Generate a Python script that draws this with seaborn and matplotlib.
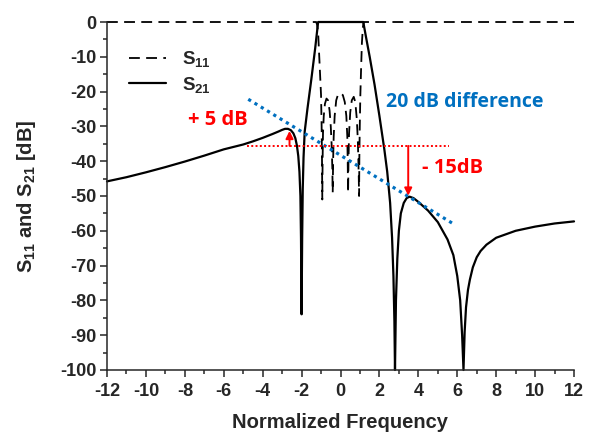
import numpy as np
import pandas as pd
import matplotlib
matplotlib.use("Agg")
import matplotlib.pyplot as plt
import seaborn as sns

# S21 (transmission)
s21_x = [-12, -11, -10, -9, -8, -7, -6, -5, -4.5, -4, -3.5, -3.2, -3.0, -2.85, -2.7,
         -2.55, -2.42, -2.32, -2.24, -2.17, -2.11, -2.06, -2.03, -2.0, -1.97, -1.94,
         -1.9, -1.84, -1.7, -1.5, -1.3, -1.2, -1.15,
         1.17, 1.3, 1.5, 1.75, 2.0, 2.25, 2.4, 2.55, 2.65, 2.72, 2.77, 2.8,
         2.85, 2.92, 3.0, 3.1, 3.25, 3.4, 3.55, 3.75, 4.0, 4.5, 5.0, 5.5, 5.8, 6.0,
         6.15, 6.25, 6.32, 6.38, 6.45, 6.55, 6.65, 6.8, 7.0, 7.2, 7.5, 8.0, 8.5,
         9.0, 10.0, 11.0, 12.0]
s21_y = [-45.8, -44.6, -43.2, -41.7, -40.1, -38.4, -36.6, -35.2, -34.3, -33.3, -32.2, -31.5, -31.0, -30.7, -30.7,
         -31.1, -32.0, -33.4, -35.5, -38.5, -43.0, -50.0, -62.0, -84.0, -62.0, -48.0,
         -39.0, -31.5, -25.0, -16.5, -7.5, -2.5, 0.0,
         0.0, -4.0, -10.0, -18.0, -27.0, -36.5, -43.0, -52.0, -62.0, -73.0, -86.0, -100.0,
         -80.0, -68.0, -60.0, -55.0, -52.0, -50.6, -50.2, -50.6, -51.7, -54.2, -57.5, -62.5, -67.0, -73.0,
         -80.0, -90.0, -100.0, -89.0, -82.0, -77.0, -74.0, -70.5, -67.6, -65.8, -64.0, -62.0, -61.0,
         -60.0, -58.8, -57.9, -57.3]

# S11 (reflection)
s11_x = [-12, -1.25, -1.2, -1.15, -1.1, -1.05, -1.0, -0.97, -0.95, -0.935, -0.92, -0.9,
         -0.86, -0.8, -0.72, -0.64, -0.56, -0.5, -0.45, -0.42, -0.40, -0.38, -0.35, -0.3,
         -0.22, -0.12, 0.0, 0.12, 0.22, 0.3, 0.35, 0.37, 0.39, 0.41, 0.44, 0.5, 0.58,
         0.68, 0.76, 0.84, 0.89, 0.92, 0.94, 0.955, 0.97, 0.99, 1.02, 1.06, 1.1, 1.15,
         1.2, 12]
s11_y = [0, 0, -0.8, -3, -9, -15, -21, -30, -40, -51, -40, -32,
         -27, -23.5, -22, -22.5, -25.5, -30, -36, -42, -49, -40, -33, -27,
         -22.5, -20.7, -20.5, -21, -23, -27, -33, -40, -49, -40, -32, -26, -22.5,
         -21.5, -23, -28, -34, -40, -45, -50, -38, -30, -21, -13, -6, -1.5,
         0, 0]

xticks = [-12, -10, -8, -6, -4, -2, 0, 2, 4, 6, 8, 10, 12]
xtick_labels = ['-12', '-10', '-8', '-6', '-4', '-2', '0', '2', '4', '6', '8', '10', '12']
yticks = [-100, -90, -80, -70, -60, -50, -40, -30, -20, -10, 0]
ytick_labels = ['-100', '-90', '-80', '-70', '-60', '-50', '-40', '-30', '-20', '-10', '0']

# annotation guides
blue_x = [-4.74, 5.8]
blue_y = [-22.2, -58.0]
red_x = [-4.8, 5.6]
red_y = [-35.6, -35.6]
up_arrow = (-2.62, -35.6, -31.3)
down_arrow = (3.48, -35.6, -49.9)

sns.set_style("ticks")
plt.rcParams['font.family'] = ['Liberation Sans', 'DejaVu Sans']
plt.rcParams['font.weight'] = 'bold'
plt.rcParams['axes.unicode_minus'] = False
plt.rcParams['mathtext.default'] = 'regular'

fig = plt.figure(figsize=(5.93, 4.34), dpi=100)
ax = fig.add_axes([0.1804, 0.1475, 0.7876, 0.8018])

s21 = pd.DataFrame({'f': s21_x, 'dB': s21_y})
s11 = pd.DataFrame({'f': s11_x, 'dB': s11_y})

sns.lineplot(data=s11, x='f', y='dB', ax=ax, sort=False, estimator=None,
             color='black', lw=1.3, linestyle=(0, (6, 3.5)), label='S$_{11}$', clip_on=False)
sns.lineplot(data=s21, x='f', y='dB', ax=ax, sort=False, estimator=None,
             color='black', lw=1.6, label='S$_{21}$', clip_on=False)

blue = '#0070C0'
ax.plot(blue_x, blue_y, color=blue, lw=2.3, linestyle=(0, (1, 1.3)))
ax.plot(red_x, red_y, color='red', lw=1.4, linestyle=(0, (1, 1.2)))
for ax_x, y0, y1 in [up_arrow, down_arrow]:
    ax.annotate('', xy=(ax_x, y1), xytext=(ax_x, y0),
                arrowprops=dict(arrowstyle='-|>', color='red', lw=1.4,
                                mutation_scale=11, shrinkA=0, shrinkB=0))

note_font = ['Open Sans', 'DejaVu Sans']
ax.text(-6.3, -28.2, '+ 5 dB', color='red', fontsize=14.5, fontweight='bold',
        family=note_font, ha='center', va='center')
ax.text(5.73, -42.0, '- 15dB', color='red', fontsize=14.5, fontweight='bold',
        family=note_font, ha='center', va='center')
ax.text(6.4, -23.0, '20 dB difference', color=blue, fontsize=14, fontweight='bold',
        family=note_font, ha='center', va='center')

ax.set_xlim(-12, 12)
ax.set_ylim(-100, 0)
ax.set_xticks(xticks)
ax.set_xticklabels(xtick_labels, fontweight='bold')
ax.set_xticks(range(-11, 12, 2), minor=True)
ax.set_yticks(yticks)
ax.set_yticklabels(ytick_labels, fontweight='bold')
ax.set_yticks(range(-95, 0, 10), minor=True)
ax.tick_params(which='major', length=5, width=1.1, labelsize=13)
ax.tick_params(axis='x', pad=4.5)
ax.tick_params(axis='y', pad=2.5)
ax.tick_params(which='minor', length=2.7, width=1.1)
for s in ['left', 'bottom']:
    ax.spines[s].set_linewidth(1.1)
sns.despine(ax=ax)

ax.set_xlabel('Normalized Frequency', fontsize=14.5, fontweight='bold', va='baseline')
ax.xaxis.set_label_coords(0.499, -0.166)
ax.set_ylabel('S$_{11}$ and S$_{21}$ [dB]', fontsize=14.5, fontweight='bold', va='center')
ax.yaxis.set_label_coords(-0.172, 0.5)

ax.legend(loc='upper left', bbox_to_anchor=(0.01, 0.97), frameon=False,
          prop={'size': 13.5, 'weight': 'bold'}, handlelength=2.0,
          handletextpad=0.85, labelspacing=0.3)

fig.savefig('out.png', dpi=100)
